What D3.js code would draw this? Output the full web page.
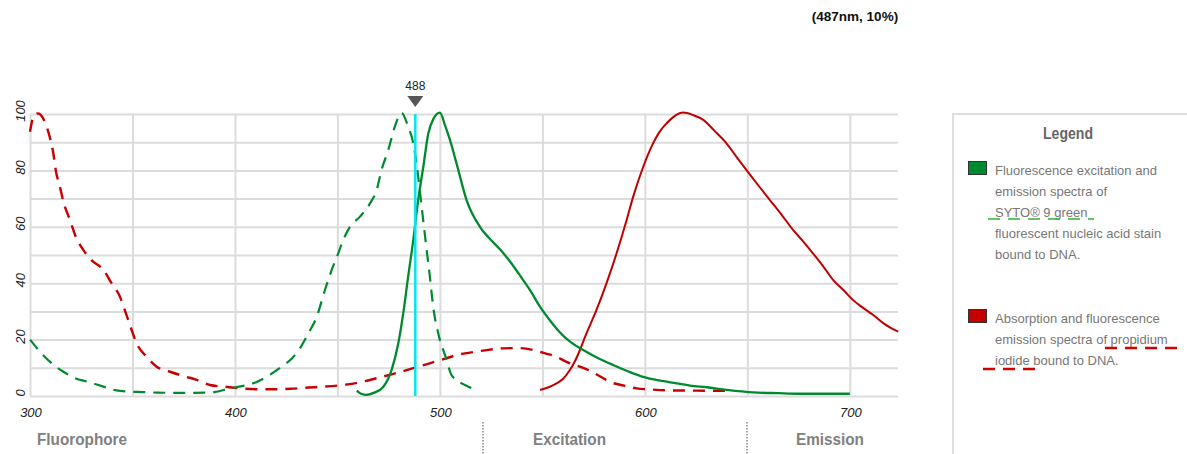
<!DOCTYPE html>
<html><head><meta charset="utf-8">
<script src="https://cdn.jsdelivr.net/npm/d3@7"></script>
<style>html,body{margin:0;padding:0;background:#fff;}svg{display:block;font-family:"Liberation Sans",Arial,sans-serif;}</style>
</head><body>
<svg id="c" width="1187" height="454"></svg>
<script>
// ---- data (wavelength nm, relative intensity %) ----
const syto9Excitation = [[300,20],[304.9,15.7],[310.6,11.6],[316.3,8.6],[322,6.3],[328.4,5],[335,3.5],[341.5,2.1],[349,1.5],[355,1.4],[362,1.2],[375,1.1],[388,1.2],[391,1.5],[396,2.4],[402,3.3],[410,4.8],[417,7.5],[423,10.5],[428,13.5],[431.7,16.9],[435.8,22.2],[439.9,28.1],[443.9,37.6],[447.2,44.7],[450.4,50.6],[452.8,55.3],[456.1,60],[461,63.6],[465.9,68.3],[469.1,73],[471.5,80.1],[474.8,87.2],[478,95.5],[481.3,100.4],[484.5,95.5],[487,89.6],[489.4,77.8],[491.1,67.1],[493,55],[495.1,42.3],[496.7,31.7],[499.2,22.2],[503.3,12.8],[505.7,7.4],[512.2,3.9],[517,2.4]];
const syto9Emission = [[459.4,1.9],[461.5,0.8],[464.2,0.4],[468,1.2],[472.4,3.3],[476.4,9.2],[479.7,18.7],[482.1,29.3],[484.5,42.3],[487,55.3],[489.4,69.5],[491.9,81.3],[494.3,93],[497,98.5],[500,100.5],[502.5,96],[504.9,90.8],[508.1,82.5],[513,69.5],[519.5,60],[524,56],[529.3,52],[534.1,47.8],[540.6,41.1],[543.9,37.6],[548.8,31.7],[553.7,26.8],[557.7,23.2],[561,20.8],[565,18.5],[569.9,16.3],[577,13.5],[584.5,11],[592,8.7],[599.2,6.8],[607,5.5],[615.5,4.5],[622,3.7],[630.1,3.1],[640,2.2],[652.8,1.3],[665,1],[675,0.8],[700,0.8]];
const piAbsorption = [[300,93.7],[302,99.6],[304,100.2],[306.8,97.9],[309.8,91.4],[311.4,86],[312.7,79.5],[314.6,74.2],[316.3,68.9],[319.5,62.4],[322,57.1],[326,51.8],[330,48.2],[335.8,44.7],[339.8,40],[343.9,35.2],[346.8,29.3],[349.6,23.4],[352,18.7],[356.9,13.9],[361.8,10.4],[368.3,8.6],[374.8,7.1],[381.3,5.7],[387.8,3.9],[395,3.3],[402.4,2.7],[410,2.4],[420,2.4],[428,2.6],[436,3],[443,3.3],[450,3.7],[456,4.2],[463,5.2],[469,6.3],[476,7.6],[482,8.8],[488,10.1],[495,11.6],[503.3,13.4],[508,14.5],[514.6,15.4],[522,16.2],[530.9,16.9],[538,17],[545.5,16.3],[551,15.2],[557,13.9],[562,12],[568.3,10.4],[573,9],[578,7],[582.9,5],[589,3.8],[595.9,2.7],[603,2.3],[611,2],[625,1.9],[640,1.8]];
const piEmission = [[548.8,2.1],[553,3.1],[556.9,4.5],[560,6],[563.4,9.2],[566,12.5],[568.3,16.3],[571.5,22.2],[576.4,30.5],[581.3,40],[586.2,50.6],[591.1,62.4],[594.3,70.7],[599.2,81.3],[604,89.6],[607,93.5],[610.6,96.7],[614,99],[618.7,100.5],[623.6,99.6],[628.5,97.9],[634,94],[639.8,89.6],[644.5,85],[649.6,80.1],[655,75],[661,69.5],[667,64],[672.3,58.9],[677,55],[682,50.6],[687,46],[691.9,41.1],[697,37.5],[701.6,34],[706,31.5],[711.4,28.7],[717,25.5],[723.6,22.8]];
const laserLine = 488;
const xGridTicks = [300,350,400,450,500,550,600,650,700];
const xLabelTicks = [300,400,500,600,700];
const yGridTicks = [0,10,20,30,40,50,60,70,80,90,100];
const yLabelTicks = [0,20,40,60,80,100];
const cursorLabel = "(487nm, 10%)";
const legendItems = [
  {color:"#008a2e", lines:["Fluorescence excitation and","emission spectra of","SYTO® 9 green","fluorescent nucleic acid stain","bound to DNA."]},
  {color:"#c40000", lines:["Absorption and fluorescence","emission spectra of propidium","iodide bound to DNA."]}
];
const bottomLabels = ["Fluorophore","Excitation","Emission"];

// ---- drawing ----
const svg = d3.select("#c");
const X0=30, X1=898, Y0=396, Y1=114;
const x = d3.scaleLinear().domain([300,723.5]).range([X0,X1]);
const y = d3.scaleLinear().domain([0,100]).range([Y0,Y1]);

// grid via axes
svg.append("g").attr("transform",`translate(0,${Y0})`)
  .call(d3.axisBottom(x).tickValues(xGridTicks).tickSize(-(Y0-Y1)).tickFormat(""))
  .call(g=>{g.select(".domain").remove();g.selectAll("line").attr("stroke","#dcdcdc").attr("stroke-width",2);});
svg.append("g").attr("transform",`translate(${X0},0)`)
  .call(d3.axisLeft(y).tickValues(yGridTicks).tickSize(-(X1-X0)).tickFormat(""))
  .call(g=>{g.select(".domain").remove();g.selectAll("line").attr("stroke","#dcdcdc").attr("stroke-width",2);});

// tick labels
svg.append("g").selectAll("text").data(xLabelTicks).join("text")
  .attr("x",d=>x(d)+1).attr("y",417).attr("text-anchor","middle")
  .attr("font-size",13).attr("font-style","italic").attr("fill","#222").text(d=>d);
svg.append("g").selectAll("text").data(yLabelTicks).join("text")
  .attr("transform",d=>`translate(25,${y(d)-3}) rotate(-90)`).attr("text-anchor","middle")
  .attr("font-size",13).attr("font-style","italic").attr("fill","#222").text(d=>d);

const line = d3.line().x(d=>x(d[0])).y(d=>y(d[1])).curve(d3.curveMonotoneX);
const plot = svg.append("g");
plot.append("path").attr("d",line(piAbsorption)).attr("fill","none").attr("stroke","#c80000").attr("stroke-width",2.4).attr("stroke-dasharray","12,8");
plot.append("path").attr("d",line(syto9Excitation)).attr("fill","none").attr("stroke","#008a2e").attr("stroke-width",2.2).attr("stroke-dasharray","12,8");
plot.append("path").attr("d",line(piEmission)).attr("fill","none").attr("stroke","#c00000").attr("stroke-width",2);
plot.append("path").attr("d",line(syto9Emission)).attr("fill","none").attr("stroke","#008a2e").attr("stroke-width",2.3);

// laser line and marker
svg.append("line").attr("x1",x(laserLine)).attr("x2",x(laserLine)).attr("y1",Y1).attr("y2",Y0)
  .attr("stroke","#00e6f2").attr("stroke-width",2.5);
const mx = x(laserLine);
svg.append("path").attr("d",`M${mx-8},96 L${mx+8},96 L${mx},107 Z`).attr("fill","#555");
svg.append("text").attr("x",mx).attr("y",90).attr("text-anchor","middle").attr("font-size",12).attr("fill","#222").text(laserLine);

// cursor label
svg.append("text").attr("x",855).attr("y",21).attr("text-anchor","middle").attr("font-size",13.5)
  .attr("font-weight","bold").attr("fill","#111").text(cursorLabel);

// legend
svg.append("rect").attr("x",953).attr("y",114).attr("width",260).attr("height",360)
  .attr("fill","#fff").attr("stroke","#dedede").attr("stroke-width",2);
svg.append("text").attr("transform","translate(1068,139) scale(0.88,1)").attr("text-anchor","middle")
  .attr("font-size",16).attr("font-weight","bold").attr("fill","#666").text("Legend");
const legTop = [161,309];
legendItems.forEach((it,i)=>{
  svg.append("rect").attr("x",968.5).attr("y",legTop[i]+0.5).attr("width",18).attr("height",13)
    .attr("fill",it.color).attr("stroke","#333").attr("stroke-width",1);
  it.lines.forEach((t,j)=>{
    svg.append("text").attr("x",995).attr("y",legTop[i]+14+j*21).attr("font-size",13)
      .attr("fill","#777").text(t);
  });
});
svg.append("line").attr("x1",988).attr("x2",1094).attr("y1",219).attr("y2",219)
  .attr("stroke","#2fb52f").attr("stroke-width",1.7).attr("stroke-dasharray","12,8");
svg.append("line").attr("x1",1105).attr("x2",1178).attr("y1",348).attr("y2",348)
  .attr("stroke","#d40000").attr("stroke-width",2.6).attr("stroke-dasharray","12,8");
svg.append("line").attr("x1",983).attr("x2",1036).attr("y1",369).attr("y2",369)
  .attr("stroke","#d40000").attr("stroke-width",2.6).attr("stroke-dasharray","12,8");

// bottom labels
const bx = [37,533,796];
bottomLabels.forEach((t,i)=>{
  svg.append("text").attr("transform",`translate(${bx[i]},445) scale(0.9,1)`)
    .attr("font-size",17).attr("font-weight","bold").attr("fill","#808080").text(t);
});
[483,747].forEach(sx=>{
  svg.append("line").attr("x1",sx).attr("x2",sx).attr("y1",422).attr("y2",454)
    .attr("stroke","#888").attr("stroke-width",1.5).attr("stroke-dasharray","1.5,1.5");
});
</script>
</body></html>
